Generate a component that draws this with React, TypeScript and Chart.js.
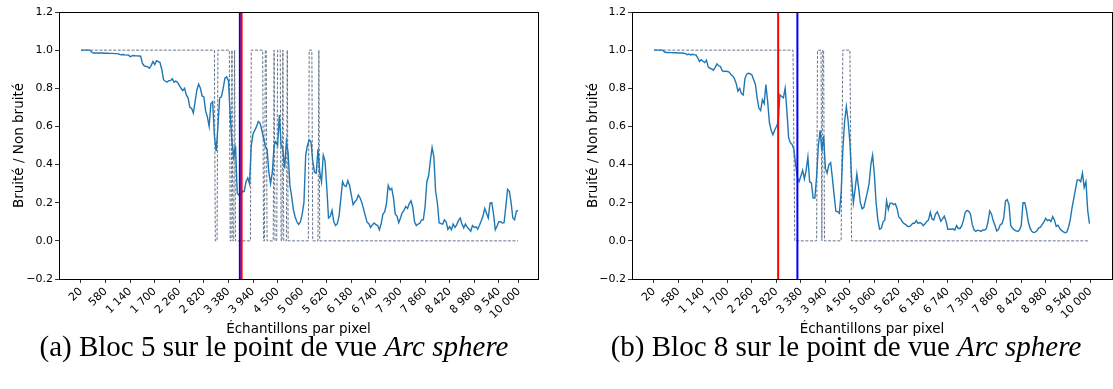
import React, { useEffect, useRef } from 'react';
import { Chart, registerables } from 'chart.js';

Chart.register(...registerables);

// ---------- data ----------
const X_START = 20;
const X_STEP = 40;

const xTickValues = [20, 580, 1140, 1700, 2260, 2820, 3380, 3940, 4500, 5060, 5620, 6180, 6740, 7300, 7860, 8420, 8980, 9540, 10000];
const xTickLabels = ['20', '580', '1 140', '1 700', '2 260', '2 820', '3 380', '3 940', '4 500', '5 060', '5 620', '6 180', '6 740', '7 300', '7 860', '8 420', '8 980', '9 540', '10 000'];
const yTickValues = [-0.2, 0, 0.2, 0.4, 0.6, 0.8, 1.0, 1.2];

// (a) Bloc 5 — ratio bruité / non bruité
const ratioA = [
  1, 1, 1, 1, 1, 1, 0.99,
  0.985, 0.985, 0.985, 0.985, 0.985, 0.985, 0.984,
  0.984, 0.984, 0.983, 0.983, 0.983, 0.982, 0.982,
  0.982, 0.978, 0.976, 0.977, 0.975, 0.974, 0.975,
  0.966, 0.97, 0.972, 0.97, 0.97, 0.969, 0.968,
  0.93, 0.918, 0.915, 0.912, 0.905, 0.92, 0.94,
  0.925, 0.945, 0.94, 0.935, 0.9, 0.845, 0.838,
  0.832, 0.84, 0.84, 0.85, 0.832, 0.838, 0.83,
  0.815, 0.8, 0.788, 0.8, 0.765, 0.75, 0.7,
  0.695, 0.67, 0.73, 0.79, 0.822, 0.8, 0.76,
  0.755, 0.68, 0.65, 0.6, 0.72, 0.73, 0.55,
  0.47, 0.6, 0.75, 0.755, 0.8, 0.853, 0.86,
  0.84, 0.66, 0.52, 0.44, 0.5, 0.25, 0.24,
  0.245, 0.26, 0.259, 0.31, 0.33, 0.3, 0.5,
  0.56, 0.58, 0.6, 0.626, 0.617, 0.58, 0.54,
  0.495, 0.48, 0.36, 0.3, 0.36, 0.5, 0.52,
  0.5, 0.66, 0.5, 0.48, 0.38, 0.52, 0.46,
  0.29, 0.233, 0.163, 0.125, 0.1, 0.086, 0.1,
  0.14, 0.2, 0.45, 0.5, 0.53, 0.52, 0.42,
  0.36, 0.355, 0.48, 0.36, 0.31, 0.45, 0.42,
  0.28, 0.12, 0.128, 0.16, 0.1, 0.08, 0.09,
  0.13, 0.22, 0.31, 0.29, 0.285, 0.315, 0.29,
  0.24, 0.19, 0.205, 0.215, 0.24, 0.225, 0.2,
  0.165, 0.13, 0.097, 0.09, 0.07, 0.085, 0.094,
  0.085, 0.08, 0.058, 0.09, 0.14, 0.152, 0.195,
  0.29, 0.267, 0.275, 0.225, 0.14, 0.13, 0.095,
  0.12, 0.148, 0.16, 0.18, 0.17, 0.195, 0.21,
  0.175, 0.1, 0.08, 0.088, 0.092, 0.11, 0.11,
  0.18, 0.31, 0.34, 0.42, 0.49, 0.44, 0.26,
  0.2, 0.095, 0.09, 0.088, 0.11, 0.1, 0.06,
  0.075, 0.058, 0.088, 0.071, 0.084, 0.106, 0.119,
  0.09, 0.068, 0.088, 0.072, 0.062, 0.05, 0.08,
  0.07, 0.074, 0.062, 0.082, 0.105, 0.13, 0.17,
  0.145, 0.12, 0.198, 0.2, 0.14, 0.058, 0.078,
  0.1, 0.1, 0.094, 0.095, 0.18, 0.27, 0.26,
  0.2, 0.12, 0.11, 0.155, 0.16,
];

// (a) reference classification (0 / 1), breakpoints
const refAX = [20, 3060, 3080, 3120, 3140, 3400, 3420, 3440, 3460, 3480, 3500, 3520, 3540, 3880, 3900, 4160, 4180, 4200, 4220, 4240, 4260, 4400, 4420, 4440, 4480, 4500, 4560, 4580, 4600, 4620, 4640, 4700, 4720, 4740, 5200, 5220, 5280, 5300, 5420, 5440, 5460, 9980];
const refAY = [1, 1, 0, 0, 1, 1, 0, 0, 1, 0, 0, 1, 0, 0, 1, 1, 0, 0, 1, 1, 0, 0, 1, 0, 0, 1, 1, 0, 0, 1, 0, 0, 1, 0, 0, 1, 1, 0, 0, 1, 0, 0];

const markerA_red = 3680;
const markerA_blue = 3640;

// (b) Bloc 8
const ratioB = [
  1, 1, 1, 1, 1, 1, 0.99,
  0.988, 0.988, 0.987, 0.987, 0.986, 0.986, 0.986,
  0.985, 0.985, 0.985, 0.984, 0.982, 0.976, 0.98,
  0.975, 0.978, 0.976, 0.975, 0.96, 0.94, 0.95,
  0.942, 0.935, 0.948, 0.912, 0.905, 0.902, 0.895,
  0.91, 0.928, 0.918, 0.914, 0.892, 0.888, 0.89,
  0.888, 0.885, 0.872, 0.865, 0.85, 0.825, 0.785,
  0.8, 0.772, 0.765, 0.85, 0.874, 0.879, 0.877,
  0.87, 0.845, 0.82, 0.748, 0.695, 0.683, 0.74,
  0.72, 0.82, 0.73, 0.62, 0.58, 0.556, 0.58,
  0.6, 0.62, 0.766, 0.757, 0.75, 0.8, 0.68,
  0.54, 0.515, 0.505, 0.48, 0.4, 0.33, 0.311,
  0.34, 0.37, 0.325, 0.37, 0.44, 0.31, 0.304,
  0.224, 0.224, 0.34, 0.5, 0.58, 0.47, 0.55,
  0.38, 0.355, 0.4, 0.41, 0.33, 0.24, 0.155,
  0.153, 0.145, 0.25, 0.48, 0.626, 0.704, 0.63,
  0.52, 0.33, 0.2, 0.27, 0.35, 0.28, 0.2,
  0.168, 0.175, 0.215, 0.255, 0.3, 0.4, 0.45,
  0.35, 0.2, 0.11, 0.061, 0.066, 0.1, 0.11,
  0.21, 0.165, 0.198, 0.198, 0.19, 0.195, 0.17,
  0.125, 0.116, 0.1, 0.09, 0.085, 0.076, 0.075,
  0.082, 0.092, 0.092, 0.106, 0.092, 0.096, 0.092,
  0.08, 0.09, 0.102, 0.11, 0.15, 0.115, 0.11,
  0.14, 0.152, 0.13, 0.103, 0.115, 0.13, 0.103,
  0.061, 0.061, 0.061, 0.063, 0.056, 0.08, 0.065,
  0.065, 0.08, 0.11, 0.15, 0.16, 0.155, 0.14,
  0.085, 0.058, 0.05, 0.056, 0.054, 0.05, 0.057,
  0.057, 0.063, 0.1, 0.157, 0.14, 0.105, 0.08,
  0.052, 0.06, 0.085, 0.09, 0.12, 0.21, 0.216,
  0.19, 0.08, 0.066, 0.057, 0.052, 0.049, 0.057,
  0.08, 0.2, 0.2, 0.16, 0.1, 0.068, 0.05,
  0.044, 0.046, 0.053, 0.068, 0.072, 0.086, 0.1,
  0.118, 0.106, 0.11, 0.101, 0.127, 0.108, 0.076,
  0.082, 0.066, 0.055, 0.048, 0.042, 0.045, 0.07,
  0.11, 0.17, 0.22, 0.27, 0.32, 0.32, 0.31,
  0.355, 0.28, 0.31, 0.16, 0.09,
];

const refBX = [20, 3200, 3240, 3740, 3760, 3840, 3860, 3880, 3900, 3920, 4300, 4340, 4500, 4540, 9980];
const refBY = [1, 1, 0, 0, 1, 1, 0, 1, 1, 0, 0, 1, 1, 0, 0];

const markerB_red = 2860;
const markerB_blue = 3300;

// ---------- chart ----------
const FONT = 'DejaVu Sans';

const boxPlugin = {
  id: 'axesBox',
  afterDraw(chart: any) {
    const { ctx, chartArea: a } = chart;
    ctx.save();
    ctx.strokeStyle = '#000';
    ctx.lineWidth = 1;
    const l = Math.floor(a.left) + 0.5;
    const t = Math.floor(a.top) + 0.5;
    const r = Math.floor(a.right) + 0.5;
    const b = Math.floor(a.bottom) + 0.5;
    ctx.strokeRect(l, t, r - l, b - t);
    ctx.restore();
  },
};

type PanelProps = {
  values: number[];
  refX: number[];
  refY: number[];
  red: number;
  blue: number;
  xMin: number;
  xMax: number;
  width: number;
  height: number;
  yAxisWidth: number;
  padRight: number;
};

function Panel(p: PanelProps) {
  const ref = useRef<HTMLCanvasElement | null>(null);
  useEffect(() => {
    if (!ref.current) return;
    const pts = p.values.map((v, i) => ({ x: X_START + X_STEP * i, y: v }));
    const refPts = p.refX.map((x, i) => ({ x, y: p.refY[i] }));
    const vline = (x: number) => [{ x, y: -0.2 }, { x, y: 1.2 }];
    const chart = new Chart(ref.current, {
      type: 'line',
      data: {
        datasets: [
          { label: 'red', data: vline(p.red), borderColor: '#ff0000', borderWidth: 2, pointRadius: 0, order: 0 },
          { label: 'blue', data: vline(p.blue), borderColor: '#0000ff', borderWidth: 2, pointRadius: 0, order: 1 },
          { label: 'ratio', data: pts, borderColor: '#1f77b4', borderWidth: 1.4, pointRadius: 0, tension: 0, order: 2 },
          { label: 'ref', data: refPts, borderColor: '#56667e', borderWidth: 0.9, borderDash: [3, 1.6], pointRadius: 0, tension: 0, order: 3 },
        ],
      },
      options: {
        animation: false,
        responsive: false,
        events: [],
        layout: { padding: { left: 0, right: p.padRight, top: 12, bottom: 0 } },
        plugins: { legend: { display: false }, tooltip: { enabled: false } },
        scales: {
          x: {
            type: 'linear',
            min: p.xMin,
            max: p.xMax,
            afterBuildTicks: (s: any) => {
              s.ticks = xTickValues.map((v) => ({ value: v }));
            },
            afterFit: (s: any) => {
              s.height = 61;
            },
            ticks: {
              autoSkip: false,
              minRotation: 45,
              maxRotation: 45,
              padding: 2,
              color: '#000',
              font: { family: FONT, size: 11 },
              callback: (_v: any, i: number) => xTickLabels[i],
            },
            grid: { display: true, drawOnChartArea: false, drawTicks: true, tickLength: 4, color: '#000', lineWidth: 0.8 },
            border: { display: false },
            title: {
              display: true,
              text: 'Échantillons par pixel',
              color: '#000',
              font: { family: FONT, size: 13.5 },
              padding: { top: 0, bottom: 2 },
            },
          },
          y: {
            type: 'linear',
            min: -0.2,
            max: 1.2,
            afterBuildTicks: (s: any) => {
              s.ticks = yTickValues.map((v) => ({ value: v }));
            },
            afterFit: (s: any) => {
              s.width = p.yAxisWidth;
            },
            ticks: {
              padding: 2,
              color: '#000',
              font: { family: FONT, size: 11 },
              callback: (v: any) => {
                const n = Number(v);
                return (n < 0 ? '\u2212' : '') + Math.abs(n).toFixed(1);
              },
            },
            grid: { display: true, drawOnChartArea: false, drawTicks: true, tickLength: 4, color: '#000', lineWidth: 0.8 },
            border: { display: false },
            title: {
              display: true,
              text: 'Bruité / Non bruité',
              color: '#000',
              font: { family: FONT, size: 13.5 },
              padding: { top: 11, bottom: 0 },
            },
          },
        },
      },
      plugins: [boxPlugin],
    } as any);
    return () => chart.destroy();
  }, []);
  return <canvas ref={ref} width={p.width} height={p.height} style={{ display: 'block', width: p.width, height: p.height }} />;
}

const captionStyle: React.CSSProperties = {
  position: 'absolute',
  top: 330,
  fontFamily: '"Liberation Serif", "Times New Roman", serif',
  fontSize: 29,
  lineHeight: 'normal',
  textAlign: 'center',
  whiteSpace: 'nowrap',
  color: '#000',
};

export default function App() {
  return (
    <div style={{ position: 'absolute', left: 0, top: 0, width: 1113, height: 389, background: '#fff', overflow: 'hidden' }}>
      <div style={{ position: 'absolute', left: 0, top: 0 }}>
        <Panel values={ratioA} refX={refAX} refY={refAY} red={markerA_red} blue={markerA_blue}
          xMin={-481} xMax={10433} width={556} height={340} yAxisWidth={59} padRight={18} />
      </div>
      <div style={{ position: 'absolute', left: 574, top: 0 }}>
        <Panel values={ratioB} refX={refBX} refY={refBY} red={markerB_red} blue={markerB_blue}
          xMin={-483} xMax={10496} width={539} height={340} yAxisWidth={58} padRight={1} />
      </div>
      <div style={{ ...captionStyle, left: 0, width: 548 }}>
        (a) Bloc 5 sur le point de vue <i>Arc sphere</i>
      </div>
      <div style={{ ...captionStyle, left: 579, width: 534 }}>
        (b) Bloc 8 sur le point de vue <i>Arc sphere</i>
      </div>
    </div>
  );
}
